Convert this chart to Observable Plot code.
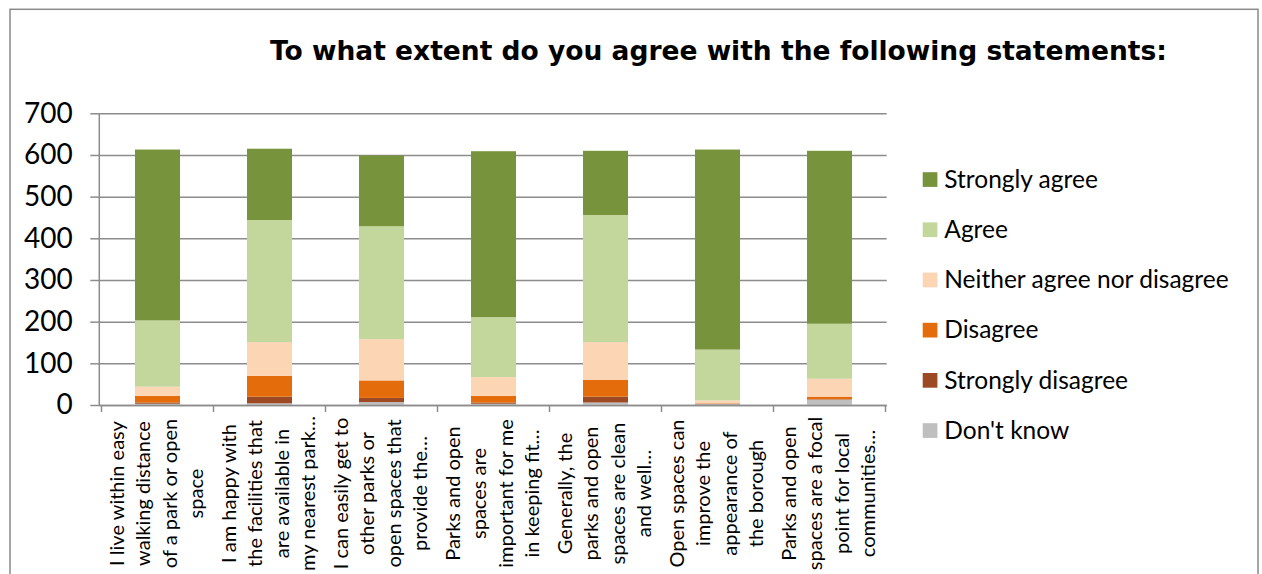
<!DOCTYPE html>
<html><head><meta charset="utf-8">
<script src="https://cdn.jsdelivr.net/npm/d3@7"></script>
<script src="https://cdn.jsdelivr.net/npm/@observablehq/plot@0.6"></script>
<style>
html,body{margin:0;padding:0;background:#fff;}
#chart{position:relative;width:1262px;height:574px;overflow:hidden;}
</style></head><body><div id="chart"></div>
<script>
const titleText = "To what extent do you agree with the following statements:";
const categories = [
  "I live within easy walking distance of a park or open space",
  "I am happy with the facilities that are available in my nearest park",
  "I can easily get to other parks or open spaces that provide the",
  "Parks and open spaces are important for me in keeping fit",
  "Generally, the parks and open spaces are clean and well",
  "Open spaces can improve the appearance of the borough",
  "Parks and open spaces are a focal point for local communities"
];
const categoryLabels = [
  "I live within easy\nwalking distance\nof a park or open\nspace",
  "I am happy with\nthe facilities that\nare available in\nmy nearest park…",
  "I can easily get to\nother parks or\nopen spaces that\nprovide the…",
  "Parks and open\nspaces are\nimportant for me\nin keeping fit…",
  "Generally, the\nparks and open\nspaces are clean\nand well…",
  "Open spaces can\nimprove the\nappearance of\nthe borough",
  "Parks and open\nspaces are a focal\npoint for local\ncommunities…"
];
const responses = ["Don't know", "Strongly disagree", "Disagree", "Neither agree nor disagree", "Agree", "Strongly agree"];
const responseColors = ["#bfbfbf", "#9b4a23", "#e46c0a", "#fcd5b5", "#c3d69b", "#77933c"];
const yTicks = [0, 100, 200, 300, 400, 500, 600, 700];

const dontKnow         = [3, 4, 7, 3, 6, 2, 13];
const stronglyDisagree = [3, 16, 10, 3, 14, 1, 1];
const disagree         = [16, 50, 42, 16, 40, 1, 6];
const neither          = [22, 81, 99, 45, 91, 7, 43];
const agree            = [159, 293, 271, 144, 305, 122, 132];
const stronglyAgree    = [410, 171, 170, 398, 154, 480, 415];

const seriesValues = [dontKnow, stronglyDisagree, disagree, neither, agree, stronglyAgree];
const rows = [];
responses.forEach((r, i) => categories.forEach((c, j) => rows.push({category: c, response: r, value: seriesValues[i][j]})));

const gridColor = "#8c8c8c";

const plot = Plot.plot({
  width: 1262, height: 574,
  marginLeft: 99.3, marginRight: 1262 - 886.7, marginTop: 113.3, marginBottom: 574 - 405,
  style: {background: "transparent", fontFamily: "Lato", color: "#000"},
  x: {domain: categories, paddingInner: 0.6, paddingOuter: 0.3, axis: null},
  y: {domain: [0, 700], axis: null},
  color: {domain: responses, range: responseColors},
  marks: [
    Plot.gridY(yTicks, {stroke: gridColor, strokeOpacity: 1, strokeWidth: 1.5}),
    Plot.barY(rows, {x: "category", y: "value", fill: "response", order: responses}),
    Plot.axisY(yTicks, {tickSize: 9, stroke: gridColor, strokeWidth: 1.5, text: null, label: null}),
    Plot.axisY(yTicks, {tickSize: 0, tickPadding: 27, fontSize: 28, fill: "#000", fontFamily: "Lato", label: null}),
    Plot.ruleY([0], {stroke: gridColor, strokeWidth: 1.5}),
    Plot.text(categories, {x: categories, text: categoryLabels, frameAnchor: "bottom", rotate: -90, dy: 88, dx: -3,
      fontSize: 20, lineHeight: 1.32, textAnchor: "middle", lineAnchor: "middle", fill: "#000", fontFamily: "Lato"})
  ]
});
document.getElementById("chart").appendChild(plot);

const svg = d3.select(plot);
const xs = plot.scale("x"), ys = plot.scale("y");
const y0 = ys.apply(0), yTop = ys.apply(700);
const left = xs.range[0];
const gap = (xs.step - xs.bandwidth) / 2;
const deco = svg.append("g").attr("text-anchor", "start");
// y axis line
deco.append("line").attr("x1", left).attr("x2", left).attr("y1", yTop).attr("y2", y0)
  .attr("stroke", gridColor).attr("stroke-width", 1.5);
// category boundary ticks
const bounds = categories.map(c => xs.apply(c) - gap).concat([xs.apply(categories[categories.length - 1]) + xs.bandwidth + gap]);
deco.selectAll("line.b").data(bounds).join("line").attr("class", "b")
  .attr("x1", d => d).attr("x2", d => d).attr("y1", y0).attr("y2", y0 + 7)
  .attr("stroke", gridColor).attr("stroke-width", 1.5);
// border
deco.append("rect").attr("x", 10).attr("y", 9.3).attr("width", 1248).attr("height", 620)
  .attr("fill", "none").attr("stroke", "#8a8a8a").attr("stroke-width", 1.5);
// title
deco.append("text").attr("x", 270).attr("y", 60).attr("text-anchor", "start").text(titleText)
  .attr("font-family", "DejaVu Sans").attr("font-weight", "bold").attr("font-size", 26.5).attr("fill", "#000");
// legend
const legendOrder = responses.slice().reverse();
const lg = deco.append("g");
legendOrder.forEach((r, i) => {
  const base = 187.7 + i * 50.2;
  lg.append("rect").attr("x", 922.7).attr("y", base - 15.5).attr("width", 14.7).attr("height", 14.7)
    .attr("fill", responseColors[responses.indexOf(r)]);
  lg.append("text").attr("x", 944.3).attr("y", base).attr("text-anchor", "start").text(r)
    .attr("font-family", "Lato").attr("font-size", 24.5).attr("fill", "#000");
});
</script></body></html>
